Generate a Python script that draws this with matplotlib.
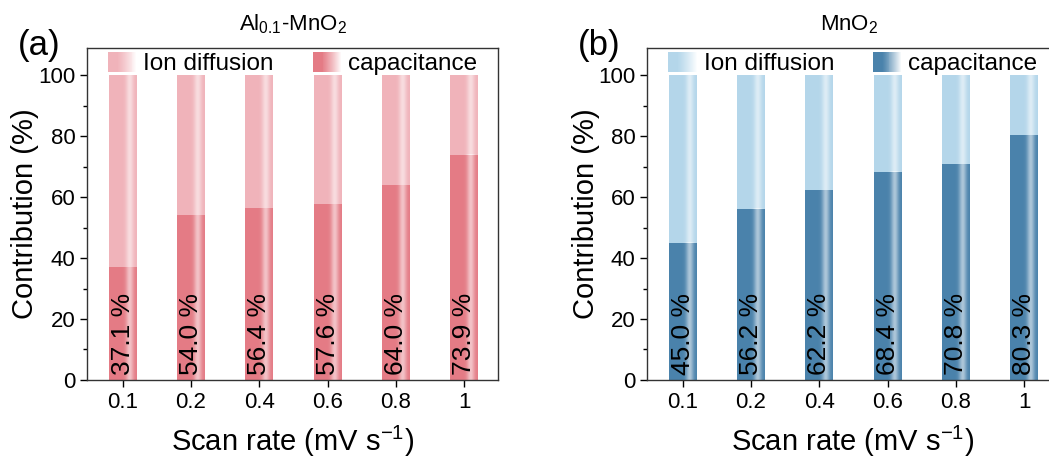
import numpy as np
import matplotlib
matplotlib.use("Agg")
import matplotlib.pyplot as plt
from matplotlib.patches import Patch, Rectangle
from matplotlib.legend_handler import HandlerBase
from matplotlib.colors import to_rgb

plt.rcParams['font.family'] = ['Liberation Sans', 'DejaVu Sans']
plt.rcParams['mathtext.fontset'] = 'custom'
plt.rcParams['mathtext.rm'] = 'Liberation Sans'
plt.rcParams['mathtext.it'] = 'Liberation Sans:italic'
plt.rcParams['mathtext.default'] = 'regular'

scan_rates = ['0.1', '0.2', '0.4', '0.6', '0.8', '1']
al_capacitance = [37.1, 54.0, 56.4, 57.6, 64.0, 73.9]
mno2_capacitance = [45.0, 56.2, 62.2, 68.4, 70.8, 80.3]

panels = [
    ("(a)", "Al$_{0.1}$-MnO$_2$", al_capacitance, "#f0b3ba", "#e47b85", 0.5),
    ("(b)", "MnO$_2$", mno2_capacitance, "#b4d6ea", "#4a82ab", 0.49),
]


class GradientHandler(HandlerBase):
    # legend key fading from the bar colour into white
    def create_artists(self, legend, orig_handle, xdescent, ydescent,
                       width, height, fontsize, trans):
        base = np.array(to_rgb(orig_handle.get_facecolor()))
        n = 30
        artists = []
        for i in range(n):
            t = i / (n - 1)
            mix = np.clip((t - 0.3) / 0.7, 0, 1) ** 1.2
            c = base * (1 - mix) + np.ones(3) * mix
            r = Rectangle((-xdescent + width * i / n, -ydescent), width / n * 1.05, height,
                          facecolor=c, edgecolor='none', transform=trans)
            artists.append(r)
        return artists


def shade_bar(ax, rect):
    # soft glossy highlight across each bar
    t = np.linspace(0, 1, 80)
    alpha = 0.55 * np.exp(-((t - 0.72) / 0.13) ** 2)
    img = np.ones((1, len(t), 4))
    img[0, :, 3] = alpha
    x0, y0 = rect.get_x(), rect.get_y()
    ax.imshow(img, extent=(x0, x0 + rect.get_width(), y0, y0 + rect.get_height()),
              aspect='auto', interpolation='bilinear', zorder=rect.get_zorder() + 0.1)


fig = plt.figure(figsize=(10.49, 4.61), dpi=100)
positions = [[0.083, 0.176, 0.392, 0.720], [0.617, 0.176, 0.392, 0.720]]

for (tag, title, cap, light, dark, title_x), pos in zip(panels, positions):
    ax = fig.add_axes(pos)
    x = np.arange(len(scan_rates))
    cap = np.array(cap)
    diff = 100 - cap
    width = 0.41

    bars_cap = ax.bar(x, cap, width, color=dark, zorder=2)
    bars_diff = ax.bar(x, diff, width, bottom=cap, color=light, zorder=2)
    for r in list(bars_cap) + list(bars_diff):
        shade_bar(ax, r)

    for xi, v in zip(x, cap):
        ax.text(xi, 1.5, f"{v:.1f} %", rotation=90, ha='center', va='bottom',
                fontsize=19, zorder=5)

    ax.set_xlim(-0.52, 5.5)
    ax.set_ylim(0, 109)
    ax.set_xticks(x, scan_rates)
    ax.set_yticks(np.arange(0, 101, 20))
    ax.set_yticks(np.arange(10, 100, 20), minor=True)
    ax.tick_params(axis='both', direction='out', labelsize=16, width=1, length=5)
    ax.tick_params(axis='y', which='minor', direction='out', length=3, width=1)
    for s in ax.spines.values():
        s.set_linewidth(1)
        s.set_color('#333333')

    ax.set_ylabel("Contribution (%)", fontsize=21, labelpad=-1)
    ax.set_xlabel("Scan rate (mV s$^{-1}$)", fontsize=21, labelpad=8)
    fig.text(pos[0] + pos[2] * title_x, 0.933, title,
             fontsize=16, ha='center', va='baseline')

    handles = [Patch(facecolor=light, label="Ion diffusion"),
               Patch(facecolor=dark, label="capacitance")]
    ax.legend(handles=handles, loc='center', bbox_to_anchor=(0.5, 0.952), ncol=2,
              frameon=False, fontsize=17.5, handlelength=1.2, handleheight=0.85,
              handletextpad=0.25, columnspacing=1.6, borderpad=0,
              handler_map={Patch: GradientHandler()})

    fig.text(pos[0] - 0.066, 0.865, tag, fontsize=25, ha='left', va='bottom')

fig.savefig("out.png", dpi=100)
